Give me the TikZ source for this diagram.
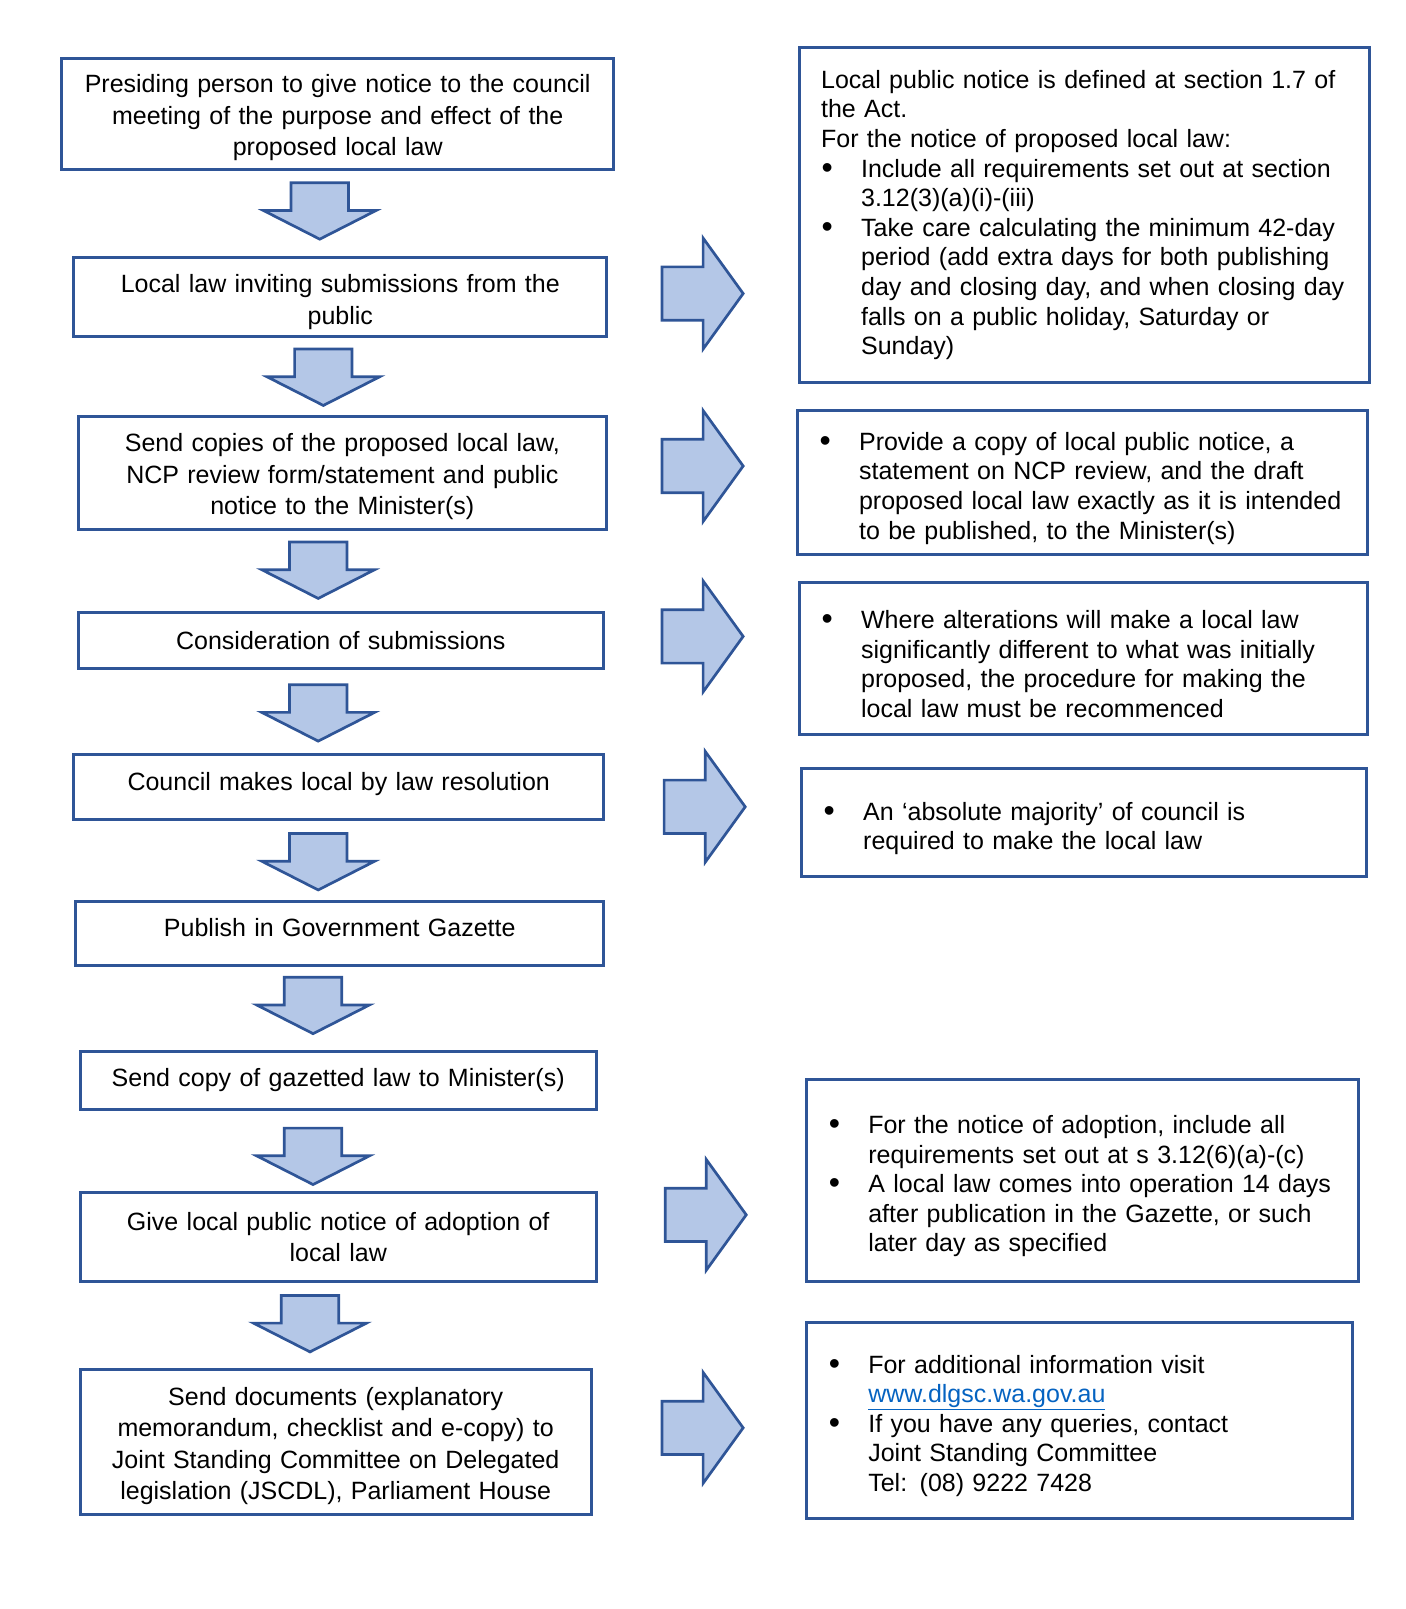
\documentclass[tikz,border=0pt]{standalone}
\usepackage{fontspec}
\setmainfont{Liberation Sans}
\definecolor{bord}{HTML}{2F5597}
\definecolor{afill}{HTML}{B4C7E7}
\definecolor{linkc}{HTML}{0563C1}
\def\sc{1.0265}
\tikzset{
  lbox/.style={draw=bord, line width=3pt, align=center, inner sep=0pt,
    font=\fontsize{25}{31.5}\selectfont},
  rbox/.style={draw=bord, line width=3pt, inner xsep=21.5pt, inner ysep=0pt,
    align=left, font=\fontsize{25}{29.6}\selectfont},
  blk/.style={draw=bord, fill=afill, line width=2.7pt, line join=miter},
}
\newcommand\lbx[6]{%
  \node[lbox, minimum width={(#4-#2)*\sc}, minimum height={(#5-#3)*\sc}, text width={(#4-#2)*\sc-10}]
    (#1) at ({(#2+#4)/2},{(#3+#5)/2}) {#6};}
\newcommand\rbx[6]{%
  \node[rbox, minimum width={(#4-#2)*\sc}, minimum height={(#5-#3)*\sc}, text width={(#4-#2)*\sc-43}]
    (#1) at ({(#2+#4)/2},{(#3+#5)/2}) {#6};}
\newcommand\dnsh[1]{\rule{0pt}{#1pt}}
\newcommand\upsh[1]{\rule[-#1pt]{0pt}{#1pt}}
\newcommand\bigbul{\raisebox{-1.2pt}{\fontsize{32}{32}\selectfont\textbullet}}
\newcommand\bul[1]{\par\hangindent=40pt\hangafter=1\noindent\makebox[40pt][l]{\hspace{0.5pt}\bigbul}#1\par}
% down block arrow: cx, top
\newcommand\dnarr[2]{%
  \draw[blk] ({#1-28},#2) -- ({#1+28},#2) -- ({#1+28},{#2+27}) -- ({#1+55},{#2+27})
    -- (#1,{#2+55}) -- ({#1-55},{#2+27}) -- ({#1-28},{#2+27}) -- cycle;}
% right block arrow: left x, center y
\newcommand\rtarr[2]{%
  \draw[blk] (#1,{#2-26}) -- ({#1+40},{#2-26}) -- ({#1+40},{#2-54}) -- ({#1+79},#2)
    -- ({#1+40},{#2+54}) -- ({#1+40},{#2+26}) -- (#1,{#2+26}) -- cycle;}
\begin{document}
\begin{tikzpicture}[x=1.0265pt,y=-1.0265pt]
\useasboundingbox (0,0) rectangle (1369.7,1567.5);
% left column
\lbx{b1}{60}{57}{598}{165}{\dnsh{26}Presiding person to give notice to the council\\ meeting of the purpose and effect of the\\ proposed local law}
\lbx{b2}{72}{251}{591}{328}{\dnsh{28}Local law inviting submissions from the\\ public}
\lbx{b3}{76}{406}{591}{516}{\dnsh{25}Send copies of the proposed local law,\\ NCP review form/statement and public\\ notice to the Minister(s)}
\lbx{b4}{76}{597}{588}{651}{Consideration of submissions}
\lbx{b5}{72}{735}{588}{798}{Council makes local by law resolution\upsh{11}}
\lbx{b6}{74}{878}{588}{941}{Publish in Government Gazette\upsh{12}}
\lbx{b7}{78}{1024}{581}{1081}{Send copy of gazetted law to Minister(s)}
\lbx{b8}{78}{1162}{581}{1248}{Give local public notice of adoption of\\ local law}
\lbx{b9}{78}{1334}{576}{1475}{\dnsh{27}Send documents (explanatory\\ memorandum, checklist and e-copy) to\\ Joint Standing Committee on Delegated\\ legislation (JSCDL), Parliament House}
% down arrows
\dnarr{311.5}{178}
\dnarr{315}{340}
\dnarr{310}{528}
\dnarr{310}{667}
\dnarr{310}{812}
\dnarr{305}{952}
\dnarr{305}{1099}
\dnarr{302}{1262}
% right arrows
\rtarr{645}{286}
\rtarr{645}{454}
\rtarr{645}{620}
\rtarr{647}{786}
\rtarr{648}{1183.5}
\rtarr{645}{1391}
% right column
\rbx{r1}{779}{46}{1334}{373}{\noindent Local public notice is defined at section 1.7 of\newline the Act.\par
\noindent For the notice of proposed local law:
\bul{Include all requirements set out at section\newline 3.12(3)(a)(i)-(iii)}
\bul{Take care calculating the minimum 42-day\newline period (add extra days for both publishing\newline day and closing day, and when closing day\newline falls on a public holiday, Saturday or\newline Sunday)}}
\rbx{r2}{777}{400}{1332}{540}{\bul{Provide a copy of local public notice, a\newline statement on NCP review, and the draft\newline proposed local law exactly as it is intended\newline to be published, to the Minister(s)}}
\rbx{r3}{779}{567}{1332}{716}{\bul{Where alterations will make a local law\newline significantly different to what was initially\newline proposed, the procedure for making the\newline local law must be recommenced}}
\rbx{r4}{781}{749}{1331}{854}{\bul{An ‘absolute majority’ of council is\newline required to make the local law}}
\rbx{r5}{786}{1052}{1323}{1248}{\bul{For the notice of adoption, include all\newline requirements set out at s 3.12(6)(a)-(c)}
\bul{A local law comes into operation 14 days\newline after publication in the Gazette, or such\newline later day as specified}}
\rbx{r6}{786}{1288}{1318}{1479}{\bul{For additional information visit\newline \textcolor{linkc}{\underline{www.dlgsc.wa.gov.au}}}
\bul{If you have any queries, contact\newline Joint Standing Committee\newline Tel: (08) 9222 7428}}
\end{tikzpicture}
\end{document}
